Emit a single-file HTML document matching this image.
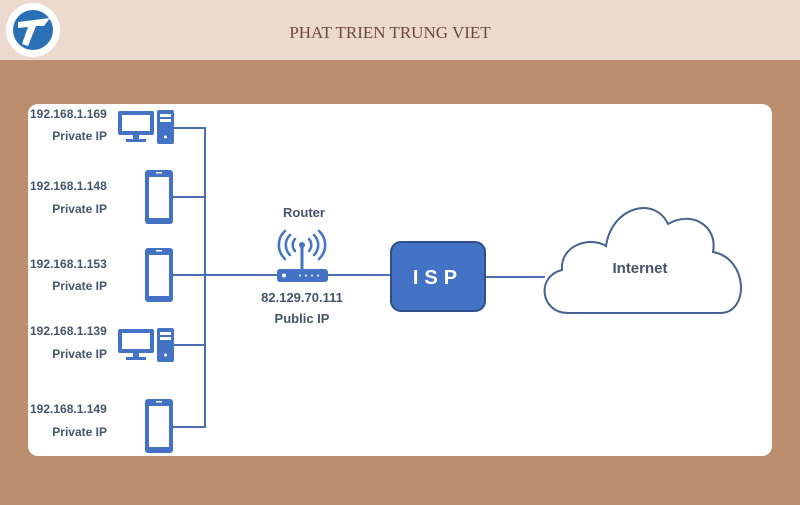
<!DOCTYPE html>
<html><head><meta charset="utf-8"><style>
body{margin:0;width:800px;height:500px;overflow:hidden;background:#bc8d6f;font-family:"Liberation Sans",sans-serif}
</style></head><body>
<svg width="800" height="500" viewBox="0 0 800 500" xmlns="http://www.w3.org/2000/svg">
<rect x="0" y="0" width="800" height="60" fill="#ebdacd"/>
<rect x="0" y="60" width="800" height="440" fill="#bc8d6f"/>
<circle cx="33" cy="30" r="27" fill="#fff"/>
<circle cx="33" cy="30" r="20" fill="#2a6fb5"/>
<path d="M18,22 L50,18 L44,26 L36,26 L28,46 L22,44 L28,27 L18,28 Z" fill="#fff"/>
<text x="390" y="38" text-anchor="middle" font-family="Liberation Serif,serif" font-size="17" fill="#6e4a3a">PHAT TRIEN TRUNG VIET</text>
<rect x="28" y="104" width="744" height="352" rx="10" fill="#fff"/>
<g stroke="#4a6fb0" stroke-width="2" fill="none">
<path d="M174,128 H205 V427 H172 M172,197 H205 M172,275 H277 M174,345 H205 M327,275 H391 M485,277 H545"/>
<path d="M568,313 C540,313 536,276 562,270 C560,245 590,236 606,246 C612,206 655,196 668,224 C692,210 718,226 713,252 C748,258 750,313 720,313 Z" stroke="#44638f"/>
</g>
<g fill="#4472c4">
<rect x="118" y="111" width="36" height="24" rx="2"/><rect x="122" y="115" width="28" height="16" fill="#fff"/>
<rect x="133" y="135" width="6" height="4"/><rect x="126" y="139" width="20" height="3"/>
<rect x="157" y="110" width="17" height="34" rx="2"/><rect x="160" y="114" width="11" height="3" fill="#fff"/><rect x="160" y="119" width="11" height="3" fill="#fff"/><circle cx="165.5" cy="137" r="1.5" fill="#fff"/>
<rect x="118" y="329" width="36" height="24" rx="2"/><rect x="122" y="333" width="28" height="16" fill="#fff"/>
<rect x="133" y="353" width="6" height="4"/><rect x="126" y="357" width="20" height="3"/>
<rect x="157" y="328" width="17" height="34" rx="2"/><rect x="160" y="332" width="11" height="3" fill="#fff"/><rect x="160" y="337" width="11" height="3" fill="#fff"/><circle cx="165.5" cy="355" r="1.5" fill="#fff"/>
<rect x="145" y="170" width="28" height="54" rx="3"/><rect x="149" y="177" width="20" height="41" fill="#fff"/><rect x="156" y="172" width="6" height="1.5" fill="#fff"/>
<rect x="145" y="248" width="28" height="54" rx="3"/><rect x="149" y="255" width="20" height="41" fill="#fff"/><rect x="156" y="250" width="6" height="1.5" fill="#fff"/>
<rect x="145" y="399" width="28" height="54" rx="3"/><rect x="149" y="406" width="20" height="41" fill="#fff"/><rect x="156" y="401" width="6" height="1.5" fill="#fff"/>
<rect x="277" y="269" width="51" height="13" rx="3"/>
<circle cx="284" cy="275.5" r="2" fill="#fff"/>
<g fill="#fff"><circle cx="300" cy="275.5" r="1"/><circle cx="306" cy="275.5" r="1"/><circle cx="312" cy="275.5" r="1"/><circle cx="318" cy="275.5" r="1"/></g>
<rect x="300.5" y="246" width="3" height="24"/><circle cx="302" cy="245" r="3"/>
<rect x="391" y="242" width="94" height="69" rx="10" stroke="#2f4f8a" stroke-width="2"/>
</g>
<g stroke="#4472c4" stroke-width="2.5" fill="none" stroke-linecap="round">
<path d="M295,239 A9,9 0 0,0 295,251 M309,239 A9,9 0 0,1 309,251"/>
<path d="M290,235 A14,14 0 0,0 290,255 M314,235 A14,14 0 0,1 314,255"/>
<path d="M285,231 A19,19 0 0,0 285,259 M319,231 A19,19 0 0,1 319,259"/>
</g>
<text x="438" y="284" text-anchor="middle" font-size="20" font-weight="bold" fill="#fff" letter-spacing="6">ISP</text>
<g font-size="12" font-weight="bold" fill="#44546a">
<text x="30" y="118">192.168.1.169</text><text x="107" y="140" text-anchor="end">Private IP</text>
<text x="30" y="190">192.168.1.148</text><text x="107" y="213" text-anchor="end">Private IP</text>
<text x="30" y="268">192.168.1.153</text><text x="107" y="290" text-anchor="end">Private IP</text>
<text x="30" y="335">192.168.1.139</text><text x="107" y="358" text-anchor="end">Private IP</text>
<text x="30" y="413">192.168.1.149</text><text x="107" y="436" text-anchor="end">Private IP</text>
<text x="304" y="217" text-anchor="middle" font-size="13">Router</text>
<text x="302" y="302" text-anchor="middle" font-size="13">82.129.70.111</text>
<text x="302" y="323" text-anchor="middle" font-size="13">Public IP</text>
<text x="640" y="273" text-anchor="middle" font-size="15">Internet</text>
</g>
</svg>
</body></html>
